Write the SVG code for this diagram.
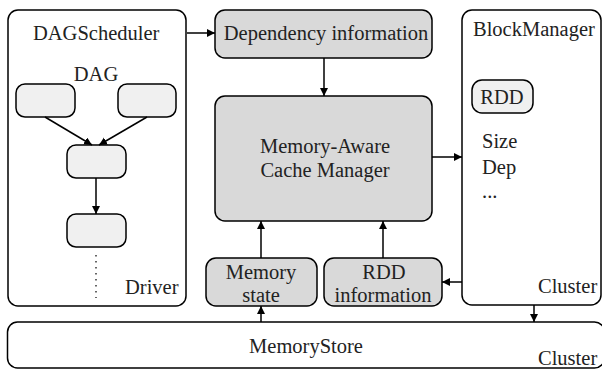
<svg xmlns="http://www.w3.org/2000/svg" width="602" height="369" viewBox="0 0 602 369">
<defs>
<marker id="ah" markerUnits="userSpaceOnUse" markerWidth="9" markerHeight="9" refX="8" refY="4" orient="auto">
<path d="M0,0 L8,4 L0,8 z" fill="#000"/>
</marker>
<style>
.box{fill:#fff;stroke:#000;stroke-width:1.5}
.gray{fill:#d9d9d9;stroke:#000;stroke-width:1.5}
.light{fill:#f0f0f0;stroke:#000;stroke-width:1.5}
text{font-size:20.5px;fill:#222}
.c{text-anchor:middle}
.con{stroke:#000;stroke-width:1.5;fill:none;marker-end:url(#ah)}
</style>
</defs>
<rect width="602" height="369" fill="#fff"/>
<g font-family="'Liberation Serif', 'Times New Roman', Tinos, 'DejaVu Serif', serif">
<g id="memorystore">
<rect class="box" x="7.5" y="322" width="597" height="46" rx="10"/>
<text class="c" x="306" y="353">MemoryStore</text>
<text x="538" y="365">Cluster</text>
</g>
<g id="dagscheduler">
<rect class="box" x="8" y="10" width="178" height="296" rx="10"/>
<text x="33" y="40">DAGScheduler</text>
<text class="c" x="96" y="81">DAG</text>
<text x="125" y="294">Driver</text>
</g>
<g id="dag-node-1"><rect class="light" x="16" y="84" width="59" height="33" rx="9"/></g>
<g id="dag-node-2"><rect class="light" x="118" y="84" width="58" height="33" rx="9"/></g>
<g id="dag-node-3"><rect class="light" x="67" y="145" width="59" height="33" rx="9"/></g>
<g id="dag-node-4"><rect class="light" x="67" y="214" width="59" height="33" rx="9"/></g>
<g id="dependency">
<rect class="gray" x="215" y="10" width="217" height="48" rx="10"/>
<text class="c" x="326" y="40">Dependency information</text>
</g>
<g id="cachemanager">
<rect class="gray" x="215" y="96" width="217" height="125" rx="10"/>
<text class="c" x="325" y="153">Memory-Aware</text>
<text class="c" x="325" y="177">Cache Manager</text>
</g>
<g id="memorystate">
<rect class="gray" x="206" y="258" width="111" height="48" rx="10"/>
<text class="c" x="261" y="279">Memory</text>
<text class="c" x="261" y="302">state</text>
</g>
<g id="rddinfo">
<rect class="gray" x="324" y="258" width="118" height="48" rx="10"/>
<text class="c" x="384" y="279">RDD</text>
<text class="c" x="383" y="302">information</text>
</g>
<g id="blockmanager">
<rect class="box" x="462" y="10" width="139" height="295" rx="10"/>
<text x="473" y="36">BlockManager</text>
<rect class="light" x="472" y="80" width="61" height="33" rx="10"/>
<text class="c" x="502" y="104">RDD</text>
<text x="482" y="148">Size</text>
<text x="482" y="174">Dep</text>
<text x="482" y="198">...</text>
<text x="538" y="293">Cluster</text>
</g>
</g>
<g id="connectors">
<line class="con" x1="187" y1="33" x2="215" y2="33"/>
<line class="con" x1="45" y1="117" x2="92" y2="145"/>
<line class="con" x1="147" y1="117" x2="99" y2="145"/>
<line class="con" x1="96" y1="178" x2="96" y2="214"/>
<line x1="96" y1="255" x2="96" y2="298" stroke="#000" stroke-width="1.2" stroke-dasharray="1.5,4.5"/>
<line class="con" x1="324" y1="58" x2="324" y2="96"/>
<line class="con" x1="432" y1="157" x2="462" y2="157"/>
<line class="con" x1="261" y1="258" x2="261" y2="221"/>
<line class="con" x1="383" y1="258" x2="383" y2="221"/>
<line class="con" x1="462" y1="282" x2="442" y2="282"/>
<line class="con" x1="261" y1="322" x2="261" y2="306"/>
<line class="con" x1="534" y1="305" x2="534" y2="322"/>
</g>
</svg>
